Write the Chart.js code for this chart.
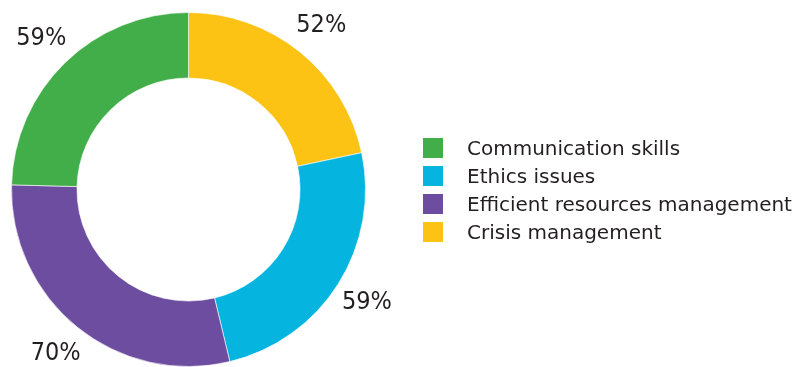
<!DOCTYPE html>
<html>
<head>
<meta charset="utf-8">
<script src="https://cdn.jsdelivr.net/npm/chart.js@4/dist/chart.umd.min.js"></script>
<style>
  body { margin: 0; background: #fff; }
  #wrap { position: relative; width: 797px; height: 367px; }
  #legend { position: absolute; left: 423px; top: 134px; font-family: "DejaVu Sans", sans-serif; font-size: 20px; color: #231f20; }
  .row { height: 28px; display: flex; align-items: center; white-space: nowrap; }
  .box { width: 20px; height: 20px; margin-right: 24px; flex: none; }
</style>
</head>
<body>
<div id="wrap">
  <canvas id="donut" width="797" height="367"></canvas>
  <div id="legend"></div>
</div>
<script>
// slices go clockwise from 12 o'clock
const categories = ['Crisis management', 'Ethics issues', 'Efficient resources management', 'Communication skills'];
const shares = [52, 59, 70, 59];
const sliceColors = ['#fdc314', '#05b5e0', '#6c4d9f', '#42ae4a'];
// legend lists the categories in a different order
const legendOrder = [3, 1, 2, 0];

// legend on the right
const legendEl = document.getElementById('legend');
legendOrder.forEach(i => {
  const row = document.createElement('div');
  row.className = 'row';
  const box = document.createElement('span');
  box.className = 'box';
  box.style.background = sliceColors[i];
  row.appendChild(box);
  row.appendChild(document.createTextNode(categories[i]));
  legendEl.appendChild(row);
});

// percent labels just outside each slice
const outsideLabels = {
  id: 'outsideLabels',
  afterDatasetsDraw(chart) {
    const ctx = chart.ctx;
    const meta = chart.getDatasetMeta(0);
    ctx.save();
    ctx.font = '25px "Liberation Sans Narrow", "DejaVu Sans Condensed", sans-serif';
    ctx.fillStyle = '#231f20';
    ctx.textAlign = 'center';
    ctx.textBaseline = 'middle';
    meta.data.forEach((arc, i) => {
      const p = arc.getProps(['x', 'y', 'startAngle', 'endAngle', 'outerRadius'], true);
      const mid = (p.startAngle + p.endAngle) / 2;
      const r = p.outerRadius + 34;
      ctx.fillText(shares[i] + '%', p.x + Math.cos(mid) * r, p.y + Math.sin(mid) * r);
    });
    ctx.restore();
  }
};

new Chart(document.getElementById('donut').getContext('2d'), {
  type: 'doughnut',
  data: {
    labels: categories,
    datasets: [{
      data: shares,
      backgroundColor: sliceColors,
      borderColor: 'rgba(255, 255, 255, 0.6)',
      borderWidth: 1
    }]
  },
  options: {
    responsive: false,
    animation: false,
    cutout: '63%',
    layout: {
      padding: { left: 11, top: 12, right: 431, bottom: 0 }
    },
    plugins: {
      legend: { display: false },
      tooltip: { enabled: false }
    }
  },
  plugins: [outsideLabels]
});
</script>
</body>
</html>
